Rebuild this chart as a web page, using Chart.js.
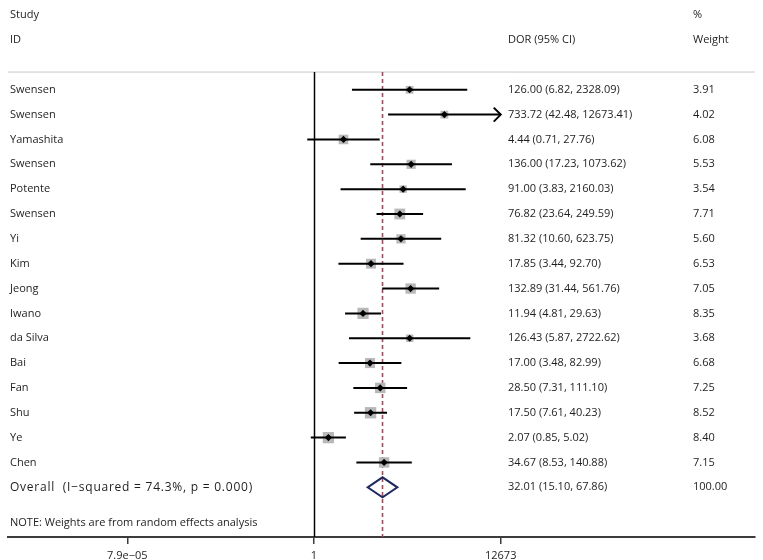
<!DOCTYPE html>
<html><head><meta charset="utf-8">
<script src="https://cdn.jsdelivr.net/npm/chart.js@4"></script>
<style>html,body{margin:0;padding:0;background:#fff}#wrap{width:763px;height:560px;position:relative}</style>
</head><body><div id="wrap"><canvas id="c" width="763" height="560"></canvas></div>
<script>
const studies=['Swensen','Swensen','Yamashita','Swensen','Potente','Swensen','Yi','Kim','Jeong','Iwano','da Silva','Bai','Fan','Shu','Ye','Chen'];
const dor=[126.00,733.72,4.44,136.00,91.00,76.82,81.32,17.85,132.89,11.94,126.43,17.00,28.50,17.50,2.07,34.67];
const lower=[6.82,42.48,0.71,17.23,3.83,23.64,10.60,3.44,31.44,4.81,5.87,3.48,7.31,7.61,0.85,8.53];
const upper=[2328.09,12673.41,27.76,1073.62,2160.03,249.59,623.75,92.70,561.76,29.63,2722.62,82.99,111.10,40.23,5.02,140.88];
const weight=[3.91,4.02,6.08,5.53,3.54,7.71,5.60,6.53,7.05,8.35,3.68,6.68,7.25,8.52,8.40,7.15];
const overallLabel='Overall  (I\u2212squared = 74.3%, p = 0.000)';
const overall=[32.01,15.10,67.86];
const overallWeight=100.00;
const tickValues=[7.9e-05,1,12673];
const tickLabels=['7.9e\u221205','1','12673'];
const noteText='NOTE: Weights are from random effects analysis';
const headers={study:['Study','ID'],est:['','DOR (95% CI)'],wt:['%','Weight']};

const axisMin=Math.pow(10,-6.724), axisMax=Math.pow(10,9.69);
const rowMin=-3.29,rowMax=18,headerLineRow=-0.713,noteRow=17.45;
const FONT="11px 'Open Sans', sans-serif";
const TXT='#1e1e1e';

const rows=studies.map((s,i)=>i);
const markerData=dor.map((v,i)=>({x:v,y:i}));
const boxData=dor.map((v,i)=>({x:v,y:i,w:weight[i]}));

function seg(ctx,x1,y1,x2,y2){ctx.beginPath();ctx.moveTo(x1,y1);ctx.lineTo(x2,y2);ctx.stroke();}

const forest={id:'forest',
  beforeDatasetsDraw(chart){
    const {ctx,chartArea:a,scales:{x,y}}=chart;
    const top=y.getPixelForValue(headerLineRow);
    ctx.save();
    ctx.strokeStyle='#c8c8c8';ctx.lineWidth=1;
    seg(ctx,a.left,top,a.right,top);
    const x1=Math.round(x.getPixelForValue(1))+0.5;
    ctx.strokeStyle='#000';ctx.lineWidth=1.5;
    seg(ctx,x1,top,x1,a.bottom);
    const xo=x.getPixelForValue(overall[0]);
    ctx.strokeStyle='#97505d';ctx.lineWidth=1.6;ctx.setLineDash([4,3]);
    seg(ctx,xo,top,xo,a.bottom);
    ctx.restore();
  },
  afterDatasetDraw(chart,args){
    if(args.index!==1) return;
    const {ctx,scales:{x,y}}=chart;
    const maxV=tickValues[tickValues.length-1];
    ctx.save();ctx.strokeStyle='#000';ctx.lineWidth=2;
    rows.forEach(i=>{
      const yy=y.getPixelForValue(i);
      const hi=Math.min(upper[i],maxV);
      const xl=x.getPixelForValue(lower[i]), xh=x.getPixelForValue(hi);
      seg(ctx,xl,yy,xh,yy);
      if(upper[i]>maxV){
        ctx.beginPath();ctx.moveTo(xh-7,yy-7);ctx.lineTo(xh,yy);ctx.lineTo(xh-7,yy+7);ctx.stroke();
      }
    });
    ctx.restore();
  },
  afterDraw(chart){
    const {ctx,scales:{x,y}}=chart;
    ctx.save();
    const oy=y.getPixelForValue(studies.length);
    const xl=x.getPixelForValue(overall[1]),xm=x.getPixelForValue(overall[0]),xh=x.getPixelForValue(overall[2]);
    ctx.strokeStyle='#1f2a5e';ctx.lineWidth=2;ctx.lineJoin='miter';
    ctx.beginPath();ctx.moveTo(xl,oy);ctx.lineTo(xm,oy-10);ctx.lineTo(xh,oy);ctx.lineTo(xm,oy+10);ctx.closePath();ctx.stroke();
    ctx.font=FONT;ctx.fillStyle=TXT;ctx.textBaseline='middle';ctx.textAlign='left';
    const cx={study:10,est:508,wt:693};
    [-3,-2].forEach((r,k)=>{
      const yy=y.getPixelForValue(r);
      ctx.fillText(headers.study[k],cx.study,yy);
      ctx.fillText(headers.est[k],cx.est,yy);
      ctx.fillText(headers.wt[k],cx.wt,yy);
    });
    rows.forEach(i=>{
      const yy=y.getPixelForValue(i);
      ctx.fillText(studies[i],cx.study,yy);
      ctx.fillText(dor[i].toFixed(2)+' ('+lower[i].toFixed(2)+', '+upper[i].toFixed(2)+')',cx.est,yy);
      ctx.fillText(weight[i].toFixed(2),cx.wt,yy);
    });
    ctx.fillText(overall[0].toFixed(2)+' ('+overall[1].toFixed(2)+', '+overall[2].toFixed(2)+')',cx.est,oy);
    ctx.fillText(overallWeight.toFixed(2),cx.wt,oy);
    ctx.fillText(noteText,cx.study,y.getPixelForValue(noteRow));
    // overall label, drawn slightly larger as in the reference
    ctx.font="12px 'Open Sans', sans-serif";
    const w0=ctx.measureText(overallLabel).width;
    const target=242;
    if('letterSpacing' in ctx){ctx.letterSpacing=Math.max(0,(target-w0)/(overallLabel.length-1)).toFixed(2)+'px';}
    ctx.fillText(overallLabel,cx.study,oy);
    ctx.restore();
  }
};

new Chart(document.getElementById('c'),{
  type:'scatter',
  data:{datasets:[
    {label:'DOR',data:markerData,pointStyle:'rectRot',pointRadius:3.6,pointHoverRadius:3.6,backgroundColor:'#000',borderColor:'#000',borderWidth:0},
    {label:'Weight',data:boxData,pointStyle:'rect',pointRadius:c=>2.75*Math.sqrt(c.raw?c.raw.w:1),pointHoverRadius:c=>2.75*Math.sqrt(c.raw?c.raw.w:1),backgroundColor:'#b8b8b8',borderColor:'#b8b8b8',borderWidth:0}
  ]},
  options:{
    responsive:false,animation:false,
    layout:{padding:{left:2,right:5,top:0,bottom:0}},
    plugins:{legend:{display:false},tooltip:{enabled:false}},
    scales:{
      x:{type:'logarithmic',min:axisMin,max:axisMax,
        afterBuildTicks(s){s.ticks=tickValues.map(v=>({value:v}));},
        afterFit(s){s.height=23;},
        border:{display:true,color:'#3c3c3c',width:2},
        grid:{drawOnChartArea:false,drawTicks:true,tickLength:7,color:'#3c3c3c',lineWidth:1.5},
        ticks:{autoSkip:false,maxRotation:0,padding:5,color:TXT,font:{family:"'Open Sans', sans-serif",size:11},
          callback:(v,i)=>tickLabels[i]}
      },
      y:{type:'linear',display:false,min:rowMin,max:rowMax,reverse:true}
    }
  },
  plugins:[forest]
});
</script></body></html>
